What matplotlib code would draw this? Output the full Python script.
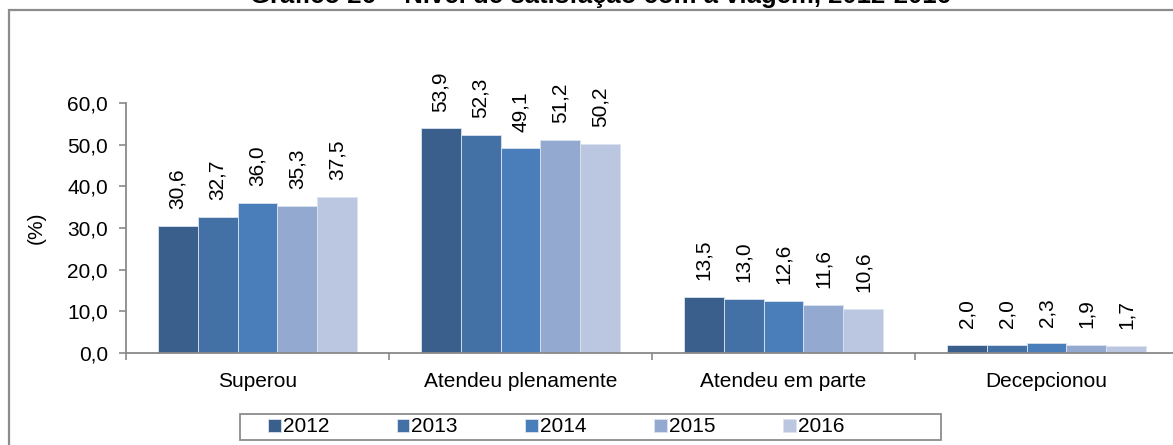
import matplotlib
matplotlib.use("Agg")
import matplotlib.pyplot as plt
from matplotlib.patches import Rectangle
import numpy as np

plt.rcParams['font.family'] = ['Liberation Sans', 'DejaVu Sans']

categories = ["Superou", "Atendeu plenamente", "Atendeu em parte", "Decepcionou"]
years = ["2012", "2013", "2014", "2015", "2016"]
values = {
    "2012": [30.6, 53.9, 13.5, 2.0],
    "2013": [32.7, 52.3, 13.0, 2.0],
    "2014": [36.0, 49.1, 12.6, 2.3],
    "2015": [35.3, 51.2, 11.6, 1.9],
    "2016": [37.5, 50.2, 10.6, 1.7],
}
colors = ["#3A5F8C", "#4371A5", "#4A7EBB", "#94A9D0", "#BBC7E1"]
title = "Gráfico 26 – Nível de satisfação com a viagem, 2012-2016"
yticks = [0, 10, 20, 30, 40, 50, 60]

W, H = 1173, 445
fig = plt.figure(figsize=(W / 100, H / 100), dpi=100)
fig.patch.set_facecolor("white")

# outer frame (extends beyond the image to right and bottom)
frame = Rectangle((9 / W, -0.2), 1.2, 0.2 + 1 - 10 / H, transform=fig.transFigure,
                  fill=False, edgecolor="#8C8C8C", linewidth=1.6, clip_on=False)
fig.patches.append(frame)

fig.text(600 / W, 1 - 3 / H, title, ha="center", va="baseline",
         fontsize=18.5, fontweight="bold")

ax = fig.add_axes([126 / W, 1 - 353 / H, 1052 / W, 250 / H])
n = len(years)
x = np.arange(len(categories))
group_w = 0.76
bw = group_w / n
for i, yr in enumerate(years):
    pos = x - group_w / 2 + bw * (i + 0.5)
    ax.bar(pos, values[yr], width=bw, color=colors[i],
           edgecolor="#DCE3EF", linewidth=0.6, label=yr, zorder=2)
    for p, v in zip(pos, values[yr]):
        ax.annotate(f"{v:.1f}".replace(".", ","), xy=(p, v), xytext=(0, 12),
                    textcoords="offset points", rotation=90, ha="center",
                    va="bottom", fontsize=15, annotation_clip=False)

ax.set_xlim(-0.5, len(categories) - 0.5)
ax.set_ylim(0, 60)
ax.set_yticks(yticks)
ax.set_yticklabels([f"{t:.1f}".replace(".", ",") for t in yticks], fontsize=15)
ax.set_xticks(np.arange(len(categories) + 1) - 0.5)
ax.set_xticklabels([])
ax.set_xticks(x, minor=True)
ax.set_xticklabels(categories, minor=True, fontsize=15)
ax.tick_params(axis="x", which="minor", length=0, pad=14)
ax.tick_params(axis="x", which="major", length=5, color="#898989", width=1.2)
ax.tick_params(axis="y", length=5, color="#898989", width=1.2, pad=8)
for s in ["top", "right"]:
    ax.spines[s].set_visible(False)
for s in ["left", "bottom"]:
    ax.spines[s].set_color("#898989")
    ax.spines[s].set_linewidth(1.3)
ax.set_ylabel("(%)", fontsize=15)
ax.yaxis.set_label_coords(-80 / 1052, 0.5)

# legend
lb = Rectangle((240 / W, 1 - 440 / H), (941 - 240) / W, 26 / H, transform=fig.transFigure,
               fill=False, edgecolor="#8C8C8C", linewidth=1.3, clip_on=False)
fig.patches.append(lb)
handles, labels = ax.get_legend_handles_labels()
fig.legend(handles, labels, loc="center left", bbox_to_anchor=(268 / W, 1 - 427 / H),
           ncol=5, frameon=False, fontsize=15, handlelength=0.6,
           handleheight=0.6, handletextpad=0.1, columnspacing=3.25,
           borderaxespad=0, borderpad=0)

fig.savefig("out.png", dpi=100, facecolor="white")
